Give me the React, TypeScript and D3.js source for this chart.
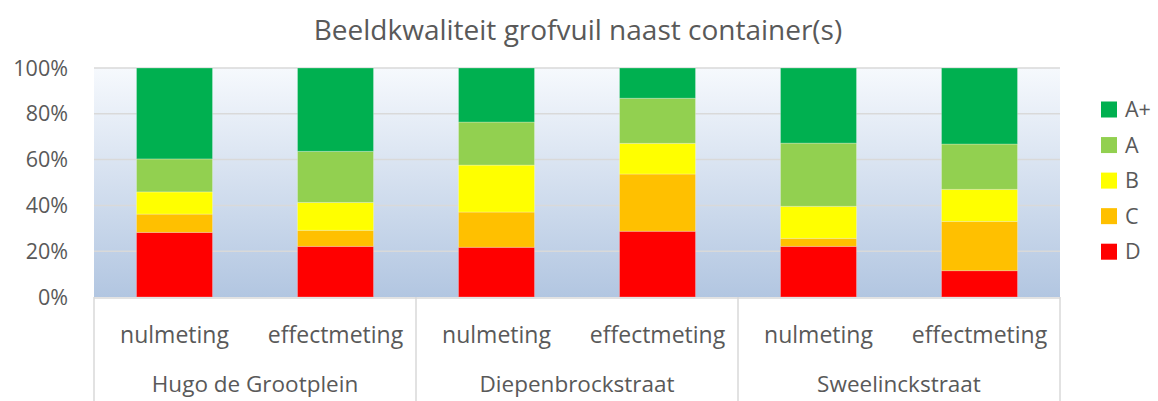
import React from 'react';
import * as d3 from 'd3';

const groups = ['Hugo de Grootplein', 'Diepenbrockstraat', 'Sweelinckstraat'];
const measurements = ['nulmeting', 'effectmeting'];
const seriesKeys = ['D', 'C', 'B', 'A', 'A+'];
const seriesColors = ['#ff0000', '#ffc000', '#ffff00', '#92d050', '#00b050'];
const valuesD = [28.2, 22.1, 21.7, 28.7, 22.1, 11.5];
const valuesC = [8.0, 7.0, 15.4, 25.0, 3.5, 21.5];
const valuesB = [9.7, 12.2, 20.5, 13.4, 14.0, 14.0];
const valuesA = [14.4, 22.3, 18.8, 19.7, 27.6, 19.8];
const valuesAplus = [39.7, 36.4, 23.6, 13.2, 32.8, 33.2];
const yTicks = [0, 20, 40, 60, 80, 100];
const title = 'Beeldkwaliteit grofvuil naast container(s)';

const W = 1158;
const H = 401;
const FONT = "'Open Sans', 'Noto Sans', sans-serif";
const TEXT = '#595959';

export default function App() {
  const bars = groups.flatMap((g, gi) =>
    measurements.map((m, mi) => ({
      key: `${gi}-${mi}`,
      group: g,
      label: m,
      D: valuesD[gi * 2 + mi],
      C: valuesC[gi * 2 + mi],
      B: valuesB[gi * 2 + mi],
      A: valuesA[gi * 2 + mi],
      'A+': valuesAplus[gi * 2 + mi],
    }))
  );
  const stacked = d3.stack<any>().keys(seriesKeys)(bars);

  const left = 94, right = 1060, top = 68, bottom = 297;
  const x = d3
    .scaleBand<string>()
    .domain(bars.map((b) => b.key))
    .range([left, right])
    .paddingInner(0.528)
    .paddingOuter(0.264);
  const y = d3.scaleLinear().domain([0, 100]).range([bottom, top]);
  const step = x.step();

  const legendY = d3.scalePoint<string>().domain(['A+', 'A', 'B', 'C', 'D']).range([109.5, 251.7]);

  return (
    <svg width={W} height={H} style={{ position: 'absolute', left: 0, top: 0 }} fontFamily={FONT}>
      <defs>
        <linearGradient id="bg" x1="0" y1="0" x2="0" y2="1">
          <stop offset="0" stopColor="#f6f9fd" />
          <stop offset="1" stopColor="#b2c6e1" />
        </linearGradient>
      </defs>
      <rect width={W} height={H} fill="#fff" />
      <text x={578} y={40} textAnchor="middle" fontSize={28} fill={TEXT}>
        {title}
      </text>
      <rect x={left} y={top} width={right - left} height={bottom - top} fill="url(#bg)" />
      {yTicks.map((t) => (
        <g key={t}>
          {t > 0 && (
            <line x1={left} x2={right} y1={y(t)} y2={y(t)} stroke="#d9d9d9" strokeWidth={1.5} />
          )}
          <text x={68} y={y(t)} dy="0.35em" textAnchor="end" fontSize={21.5} fill={TEXT}>
            {t}%
          </text>
        </g>
      ))}
      {stacked.map((s, si) => (
        <g key={s.key} fill={seriesColors[si]}>
          {s.map((d, i) => (
            <rect
              key={i}
              x={x(bars[i].key)}
              y={y(d[1])}
              width={x.bandwidth()}
              height={y(d[0]) - y(d[1])}
              stroke="#ffffff"
              strokeOpacity={0.25}
              strokeWidth={1}
            />
          ))}
        </g>
      ))}
      {/* category axis */}
      <line x1={left} x2={right} y1={bottom + 1} y2={bottom + 1} stroke="#d9d9d9" strokeWidth={1.5} />
      {[0, 2, 4, 6].map((k) => (
        <line
          key={k}
          x1={left + k * step}
          x2={left + k * step}
          y1={bottom}
          y2={H}
          stroke="#d9d9d9"
          strokeWidth={1.5}
        />
      ))}
      {bars.map((b) => (
        <text
          key={b.key}
          x={(x(b.key) as number) + x.bandwidth() / 2}
          y={343}
          textAnchor="middle"
          fontSize={23}
          fill={TEXT}
        >
          {b.label}
        </text>
      ))}
      {groups.map((g, gi) => (
        <text
          key={g}
          x={left + (gi * 2 + 1) * step}
          y={392}
          textAnchor="middle"
          fontSize={22.5}
          fill={TEXT}
        >
          {g}
        </text>
      ))}
      {/* legend */}
      {['A+', 'A', 'B', 'C', 'D'].map((k) => (
        <g key={k}>
          <rect
            x={1101}
            y={(legendY(k) as number) - 8}
            width={16}
            height={16}
            fill={seriesColors[seriesKeys.indexOf(k)]}
          />
          <text x={1125} y={legendY(k)} dy="0.35em" fontSize={21.5} fill={TEXT}>
            {k}
          </text>
        </g>
      ))}
    </svg>
  );
}
